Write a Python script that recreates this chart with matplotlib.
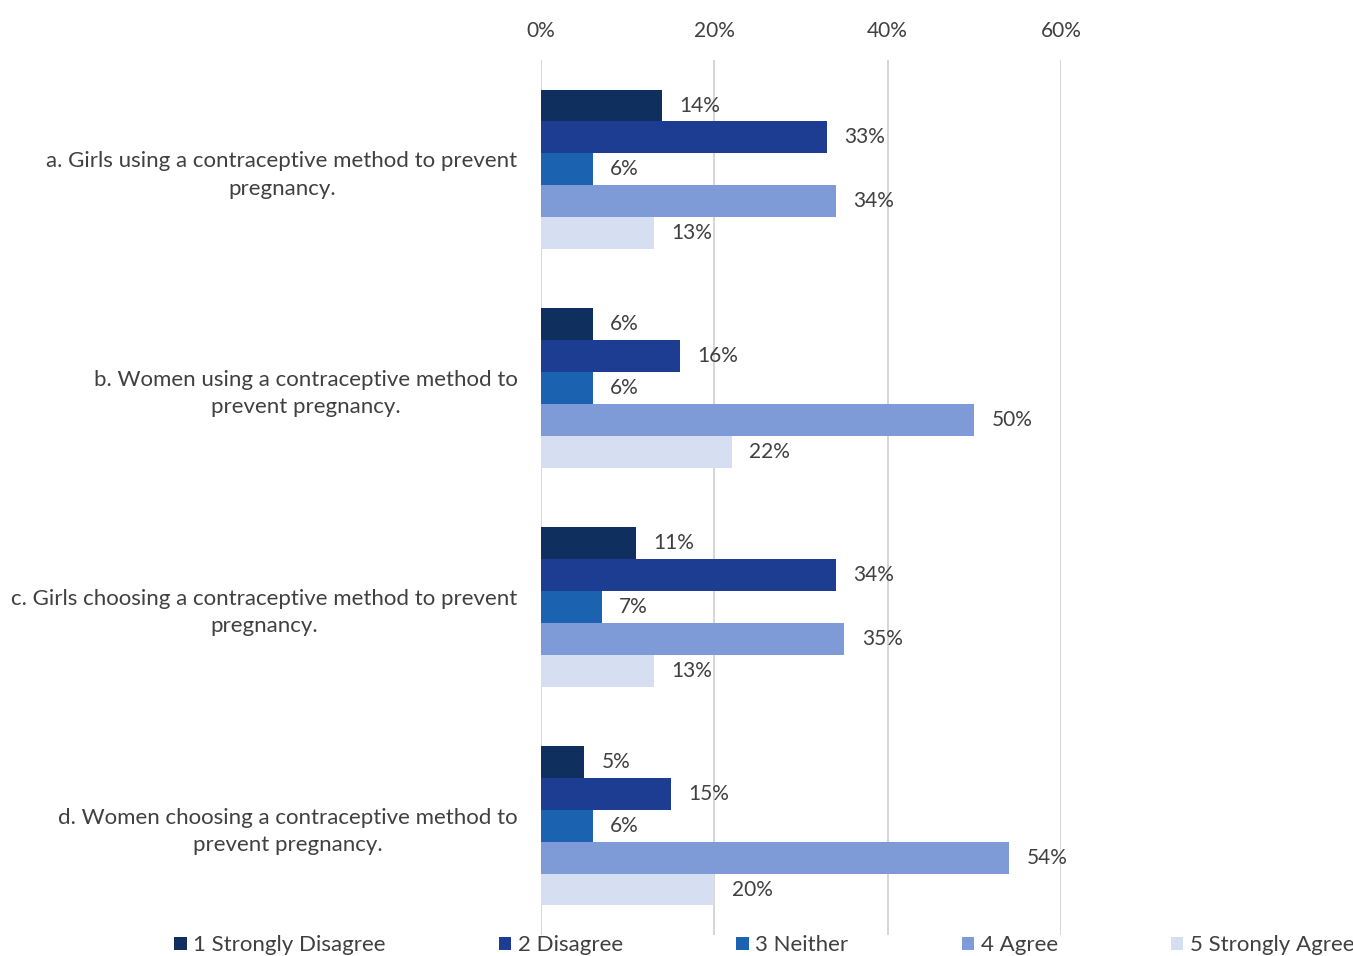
import matplotlib
matplotlib.use("Agg")
import matplotlib.pyplot as plt
from matplotlib.patches import Patch
from matplotlib.ticker import PercentFormatter
import numpy as np

plt.rcParams["font.family"] = ["Lato", "DejaVu Sans"]

# ── Data ─────────────────────────────────────────────────────────────────────
statements = [
    "a. Girls using a contraceptive method to prevent\npregnancy.",
    "b. Women using a contraceptive method to\nprevent pregnancy.",
    "c. Girls choosing a contraceptive method to prevent\npregnancy.",
    "d. Women choosing a contraceptive method to\nprevent pregnancy.",
]
responses = ["1 Strongly Disagree", "2 Disagree", "3 Neither", "4 Agree", "5 Strongly Agree"]

strongly_disagree = [14, 6, 11, 5]
disagree          = [33, 16, 34, 15]
neither           = [6, 6, 7, 6]
agree             = [34, 50, 35, 54]
strongly_agree    = [13, 22, 13, 20]

colors = ["#0f2f5f", "#1d3d92", "#1b62b0", "#7e9bd8", "#d6def1"]
TEXT = "#404040"

# ── Plot ─────────────────────────────────────────────────────────────────────
fig = plt.figure(figsize=(13.53, 9.56), dpi=100)
ax = fig.add_axes([541 / 1353, 1 - 935 / 956, (1061 - 541) / 1353, (935 - 60) / 956])

series = [strongly_disagree, disagree, neither, agree, strongly_agree]
y = np.arange(len(statements))
h = 0.146
for j, (vals, col) in enumerate(zip(series, colors)):
    pos = y + (j - 2) * h
    ax.barh(pos, vals, height=h, color=col, zorder=2)
    for p, v in zip(pos, vals):
        ax.text(v + 2.0, p, f"{v}%", va="center", ha="left", fontsize=15, color=TEXT)

ax.set_xlim(0, 60)
ax.set_ylim(len(statements) - 0.5, -0.5)
ax.set_xticks([0, 20, 40, 60])
ax.xaxis.set_major_formatter(PercentFormatter(decimals=0))
ax.xaxis.tick_top()
ax.tick_params(axis="x", length=0, pad=14, labelsize=15, labelcolor=TEXT)
ax.grid(axis="x", color="#d0d0d0", linewidth=1.2, zorder=0)
ax.set_yticks(y)
ax.set_yticklabels(statements, fontsize=16, color=TEXT, multialignment="center",
                   linespacing=1.45)
ax.tick_params(axis="y", length=0, pad=17)
for s in ax.spines.values():
    s.set_visible(False)

handles = [Patch(facecolor=c, label=r) for c, r in zip(colors, responses)]
fig.legend(handles=handles, loc="lower center", bbox_to_anchor=(0.565, -0.02), ncol=5,
           frameon=False, fontsize=16, labelcolor=TEXT, handlelength=0.55, handleheight=0.55,
           handletextpad=0.3, columnspacing=5.1)

fig.savefig("out.png", dpi=100)
